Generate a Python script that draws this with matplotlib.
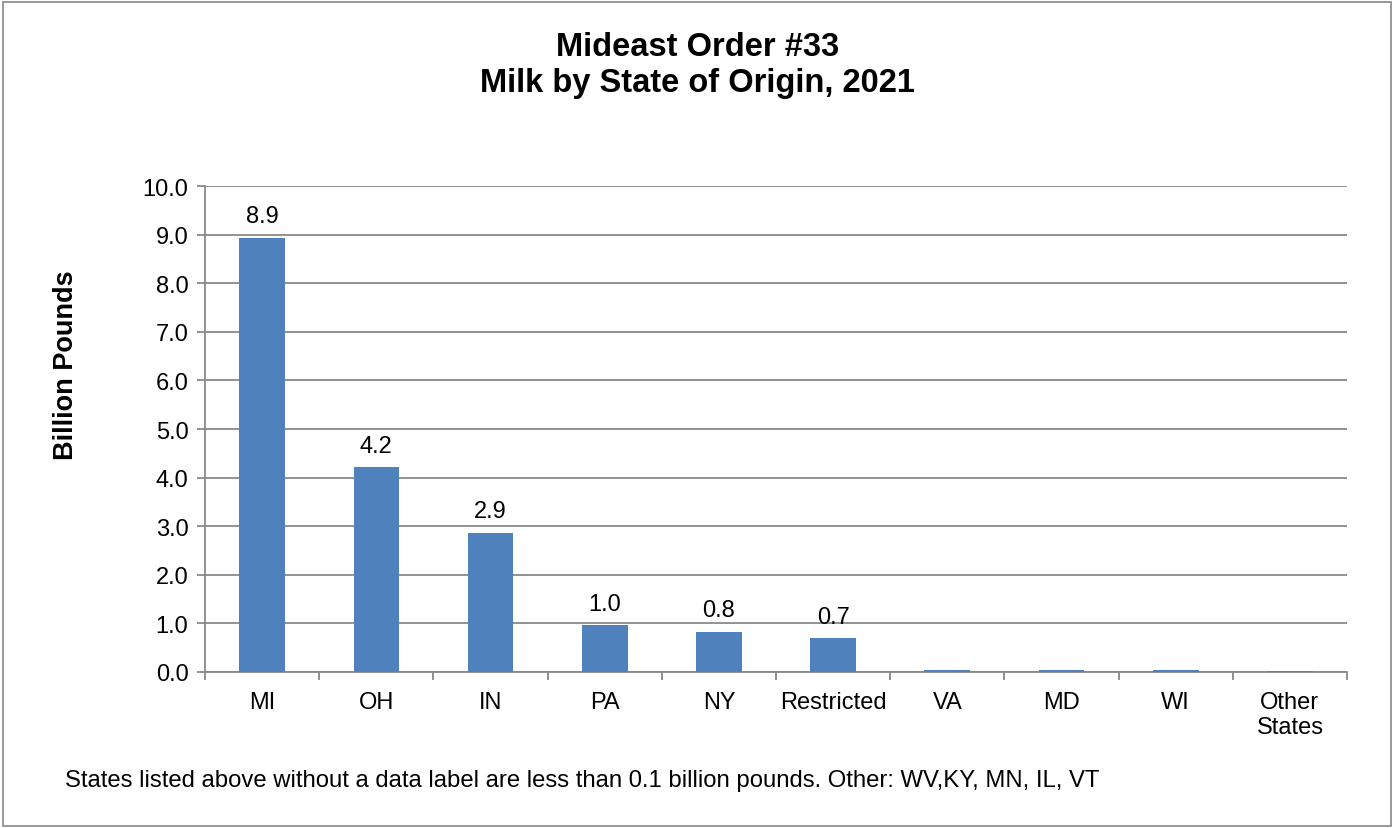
import matplotlib
matplotlib.use("Agg")
import matplotlib.pyplot as plt
from matplotlib.patches import Rectangle
import numpy as np

plt.rcParams['font.family'] = ['Liberation Sans', 'DejaVu Sans']

states = ["MI", "OH", "IN", "PA", "NY", "Restricted", "VA", "MD", "WI", "Other\nStates"]
values = [8.93, 4.21, 2.86, 0.96, 0.83, 0.69, 0.05, 0.035, 0.035, 0.01]
yticks = [0, 1, 2, 3, 4, 5, 6, 7, 8, 9, 10]

fig = plt.figure(figsize=(13.95, 8.29), dpi=100)
ax = fig.add_axes([0.147, 0.1882, 0.8186, 0.5862])

x = np.arange(len(states))
color = "#4F81BD"
grid_c = "#898989"
ax.bar(x, values, width=0.4, color=color, zorder=3)

for xi, v in zip(x, values):
    if v >= 0.1:
        ax.text(xi, v + 0.22, f"{v:.1f}", ha="center", va="bottom", fontsize=17, zorder=4)

ax.set_xlim(-0.5, len(states) - 0.5)
ax.set_ylim(0, 10)
ax.set_yticks(yticks)
ax.set_yticklabels([f"{t:.1f}" for t in yticks], fontsize=17)
ax.yaxis.grid(True, color=grid_c, linewidth=1.3, zorder=0)
ax.set_axisbelow(True)

ax.set_xticks(x)
ax.set_xticklabels(states, fontsize=17, linespacing=1.15)
ax.set_xticks(np.arange(-0.5, len(states), 1), minor=True)
ax.tick_params(axis="x", which="major", length=0, pad=14)
ax.tick_params(axis="x", which="minor", length=6, color=grid_c, width=1.3)
ax.tick_params(axis="y", length=6, color=grid_c, width=1.3, pad=6)

for s in ["top", "right"]:
    ax.spines[s].set_visible(False)
for s in ["left", "bottom"]:
    ax.spines[s].set_color(grid_c)
    ax.spines[s].set_linewidth(1.3)

ax.set_ylabel("Billion Pounds", fontsize=19.5, fontweight="bold", va="center")
ax.yaxis.set_label_coords(-0.122, 0.634)

fig.text(0.5, 0.921, "Mideast Order #33\nMilk by State of Origin, 2021", ha="center", va="center",
         fontsize=23.5, fontweight="bold", linespacing=1.2)
fig.text(0.0466, 0.058, "States listed above without a data label are less than 0.1 billion pounds. Other: WV,KY, MN, IL, VT",
         ha="left", va="center", fontsize=17.2)

fig.patches.append(Rectangle((0.002, 0.002), 0.995, 0.994, transform=fig.transFigure,
                             fill=False, edgecolor="#868686", linewidth=1.2))

fig.savefig("out.png", dpi=100)
